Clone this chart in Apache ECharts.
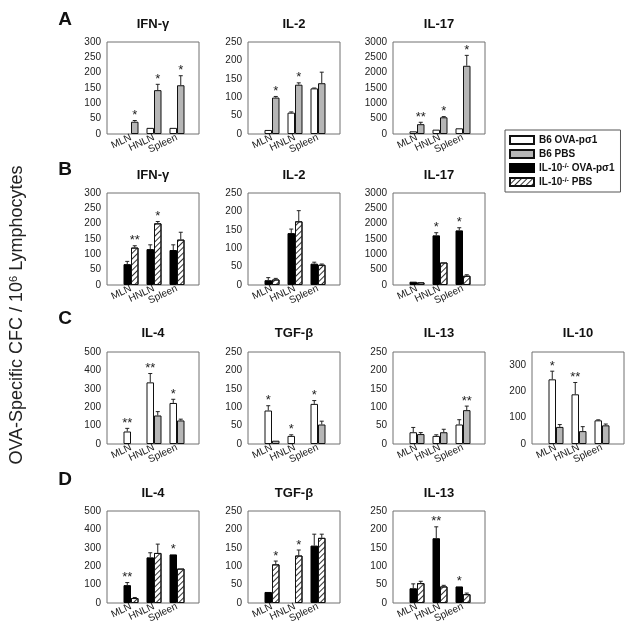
<!DOCTYPE html>
<html><head><meta charset="utf-8">
<script src="https://cdn.jsdelivr.net/npm/echarts@6/dist/echarts.min.js"></script>
<style>html,body{margin:0;padding:0;background:#fff}#c{width:634px;height:636px}</style>
</head><body><div id="c"></div>
<script>
// ---------- DATA ----------
const categories = ['MLN', 'HNLN', 'Spleen'];
const groupNames = ['B6 OVA-pσ1', 'B6 PBS', 'IL-10-/- OVA-pσ1', 'IL-10-/- PBS'];
const noStars = ['', '', ''];

// Row A (B6 OVA-pσ1 / B6 PBS)
const aIfngAxis = [300, 50];
const aIfngOva = [null, 20, 20];
const aIfngOvaErr = [null, null, null];
const aIfngPbs = [40, 143, 159];
const aIfngPbsErr = [44, 162, 190];
const aIfngPbsStar = ['*', '*', '*'];

const aIl2Axis = [250, 50];
const aIl2Ova = [11, 58, 124];
const aIl2OvaErr = [null, 60, 125];
const aIl2Pbs = [99, 134, 138];
const aIl2PbsErr = [102, 139, 168];
const aIl2PbsStar = ['*', '*', ''];

const aIl17Axis = [3000, 500];
const aIl17Ova = [87, 142, 185];
const aIl17OvaErr = [null, null, null];
const aIl17Pbs = [320, 545, 2225];
const aIl17PbsErr = [382, 567, 2564];
const aIl17PbsStar = ['**', '*', '*'];

// Row B (IL-10-/- OVA-pσ1 / IL-10-/- PBS)
const bIfngAxis = [300, 50];
const bIfngKo = [68, 117, 114];
const bIfngKoErr = [77, 131, 131];
const bIfngKp = [122, 201, 148];
const bIfngKpErr = [128, 207, 172];
const bIfngKpStar = ['**', '*', ''];

const bIl2Axis = [250, 50];
const bIl2Ko = [13, 141, 58];
const bIl2KoErr = [20, 152, 62];
const bIl2Kp = [15, 173, 55];
const bIl2KpErr = [18, 202, 57];

const bIl17Axis = [3000, 500];
const bIl17Ko = [108, 1619, 1781];
const bIl17KoErr = [null, 1705, 1867];
const bIl17KoStar = ['', '*', '*'];
const bIl17Kp = [86, 734, 302];
const bIl17KpErr = [null, null, 334];

// Row C (B6 OVA-pσ1 / B6 PBS)
const cIl4Axis = [500, 100];
const cIl4Ova = [68, 335, 223];
const cIl4OvaErr = [85, 383, 243];
const cIl4OvaStar = ['**', '**', '*'];
const cIl4Pbs = [null, 155, 128];
const cIl4PbsErr = [null, 176, 135];

const cTgfAxis = [250, 50];
const cTgfOva = [91, 22, 109];
const cTgfOvaErr = [104, 25, 118];
const cTgfOvaStar = ['*', '*', '*'];
const cTgfPbs = [9, null, 53];
const cTgfPbsErr = [null, null, 62];

const cIl13Axis = [250, 50];
const cIl13Ova = [32, 22, 53];
const cIl13OvaErr = [45, 25, 66];
const cIl13Pbs = [27, 32, 92];
const cIl13PbsErr = [31, 40, 103];
const cIl13PbsStar = ['', '', '**'];

const cIl10Axis = [350, 100];
const cIl10Ova = [246, 189, 90];
const cIl10OvaErr = [277, 234, 92];
const cIl10OvaStar = ['*', '**', ''];
const cIl10Pbs = [65, 49, 71];
const cIl10PbsErr = [74, 66, 76];

// Row D (IL-10-/- OVA-pσ1 / IL-10-/- PBS)
const dIl4Axis = [500, 100];
const dIl4Ko = [97, 248, 264];
const dIl4KoErr = [111, 273, null];
const dIl4KoStar = ['**', '', '*'];
const dIl4Kp = [27, 272, 187];
const dIl4KpErr = [30, 320, null];

const dTgfAxis = [250, 50];
const dTgfKo = [30, null, 156];
const dTgfKoErr = [null, null, 187];
const dTgfKp = [105, 129, 177];
const dTgfKpErr = [114, 144, 187];
const dTgfKpStar = ['*', '*', ''];

const dIl13Axis = [250, 50];
const dIl13Ko = [40, 176, 45];
const dIl13KoErr = [52, 207, null];
const dIl13KoStar = ['', '**', '*'];
const dIl13Kp = [54, 45, 24];
const dIl13KpErr = [59, 48, 27];

// ---------- LAYOUT ----------
const FF = '"Liberation Sans", Arial, Helvetica, sans-serif';
const rowTop = [42, 193, 352, 511];
const rowTitleY = [24, 175, 333, 493];
const letterY = [20, 170, 319, 480];
const letters = ['A', 'B', 'C', 'D'];
const colLeft = [107, 248, 393, 532];
const boxW = 92, boxH = 92, innerPad = 12.5, innerW = 69;
const BW = 7.5;

const panels = [
  {r:0, c:0, title:'IFN-γ', axis:aIfngAxis, s:[[0,aIfngOva,aIfngOvaErr,noStars],[1,aIfngPbs,aIfngPbsErr,aIfngPbsStar]]},
  {r:0, c:1, title:'IL-2', axis:aIl2Axis, s:[[0,aIl2Ova,aIl2OvaErr,noStars],[1,aIl2Pbs,aIl2PbsErr,aIl2PbsStar]]},
  {r:0, c:2, title:'IL-17', axis:aIl17Axis, s:[[0,aIl17Ova,aIl17OvaErr,noStars],[1,aIl17Pbs,aIl17PbsErr,aIl17PbsStar]]},
  {r:1, c:0, title:'IFN-γ', axis:bIfngAxis, s:[[2,bIfngKo,bIfngKoErr,noStars],[3,bIfngKp,bIfngKpErr,bIfngKpStar]]},
  {r:1, c:1, title:'IL-2', axis:bIl2Axis, s:[[2,bIl2Ko,bIl2KoErr,noStars],[3,bIl2Kp,bIl2KpErr,noStars]]},
  {r:1, c:2, title:'IL-17', axis:bIl17Axis, s:[[2,bIl17Ko,bIl17KoErr,bIl17KoStar],[3,bIl17Kp,bIl17KpErr,noStars]]},
  {r:2, c:0, title:'IL-4', axis:cIl4Axis, s:[[0,cIl4Ova,cIl4OvaErr,cIl4OvaStar],[1,cIl4Pbs,cIl4PbsErr,noStars]]},
  {r:2, c:1, title:'TGF-β', axis:cTgfAxis, s:[[0,cTgfOva,cTgfOvaErr,cTgfOvaStar],[1,cTgfPbs,cTgfPbsErr,noStars]]},
  {r:2, c:2, title:'IL-13', axis:cIl13Axis, s:[[0,cIl13Ova,cIl13OvaErr,noStars],[1,cIl13Pbs,cIl13PbsErr,cIl13PbsStar]]},
  {r:2, c:3, title:'IL-10', axis:cIl10Axis, s:[[0,cIl10Ova,cIl10OvaErr,cIl10OvaStar],[1,cIl10Pbs,cIl10PbsErr,noStars]]},
  {r:3, c:0, title:'IL-4', axis:dIl4Axis, s:[[2,dIl4Ko,dIl4KoErr,dIl4KoStar],[3,dIl4Kp,dIl4KpErr,noStars]]},
  {r:3, c:1, title:'TGF-β', axis:dTgfAxis, s:[[2,dTgfKo,dTgfKoErr,noStars],[3,dTgfKp,dTgfKpErr,dTgfKpStar]]},
  {r:3, c:2, title:'IL-13', axis:dIl13Axis, s:[[2,dIl13Ko,dIl13KoErr,dIl13KoStar],[3,dIl13Kp,dIl13KpErr,noStars]]}
];

const barStyles = [
  {color:'#ffffff', borderColor:'#111', borderWidth:1},
  {color:'#b6b6b6', borderColor:'#111', borderWidth:1},
  {color:'#000000', borderColor:'#000', borderWidth:1},
  {color:'#ffffff', borderColor:'#111', borderWidth:1,
   decal:{symbol:'rect', symbolSize:1, dashArrayX:[1,0], dashArrayY:[1,3], rotation:-Math.PI/4, color:'#333'}}
];

const grid = [], xAxis = [], yAxis = [], series = [], graphic = [];

panels.forEach(p => {
  const L = colLeft[p.c], T = rowTop[p.r];
  const fi = grid.length;
  grid.push({left:L, top:T, width:boxW, height:boxH, show:true, borderColor:'#707070', borderWidth:1, backgroundColor:'rgba(0,0,0,0)'});
  xAxis.push({gridIndex:fi, type:'value', show:false});
  yAxis.push({gridIndex:fi, type:'value', show:false});
  const gi = grid.length;
  grid.push({left:L + innerPad, top:T, width:innerW, height:boxH});
  const xi = xAxis.length;
  xAxis.push({gridIndex:gi, type:'category', data:categories,
    axisLine:{show:false}, axisTick:{show:false},
    axisLabel:{interval:0, rotate:25, margin:3, fontSize:10, color:'#222', fontFamily:FF}});
  const yi = yAxis.length;
  yAxis.push({gridIndex:gi, type:'value', min:0, max:p.axis[0], interval:p.axis[1],
    axisLine:{show:false}, axisTick:{show:false}, splitLine:{show:false},
    axisLabel:{margin:innerPad + 6, fontSize:10, color:'#222', fontFamily:FF,
      formatter: v => String(v),
      showMaxLabel: p.axis[0] % p.axis[1] === 0}});
  p.s.forEach(([t, vals]) => {
    series.push({type:'bar', name:groupNames[t], xAxisIndex:xi, yAxisIndex:yi,
      data: vals.map(v => v == null ? '-' : v), barWidth:BW, barGap:'0%',
      itemStyle: barStyles[t], silent:true});
  });
  p.s.forEach(([t, vals, errs, stars], k) => {
    const sign = k === 0 ? -1 : 1;
    series.push({type:'custom', xAxisIndex:xi, yAxisIndex:yi, z:5, silent:true,
      data: vals.map((v, i) => [i, v == null ? 0 : v]),
      renderItem: (params, api) => {
        const i = params.dataIndex;
        const v = vals[i];
        if (v == null) return null;
        const c = api.coord([i, v]);
        const x = c[0] + sign * BW / 2;
        const children = [];
        let topY = c[1];
        if (errs[i] != null) {
          const ey = api.coord([i, errs[i]])[1];
          children.push({type:'line', shape:{x1:x, y1:c[1], x2:x, y2:ey}, style:{stroke:'#222', lineWidth:1}});
          children.push({type:'line', shape:{x1:x - 2, y1:ey, x2:x + 2, y2:ey}, style:{stroke:'#222', lineWidth:1}});
          topY = ey;
        }
        if (stars[i]) {
          children.push({type:'text', x:x, y:topY - 5,
            style:{text:stars[i], align:'center', verticalAlign:'middle', fontSize:13, fill:'#222', fontFamily:FF}});
        }
        return {type:'group', children};
      }});
  });
  graphic.push({type:'text', x:L + boxW / 2, y:rowTitleY[p.r],
    style:{text:p.title, align:'center', verticalAlign:'middle', fontSize:13, fontWeight:'bold', fill:'#111', fontFamily:FF}});
});

letters.forEach((l, r) => {
  graphic.push({type:'text', x:65, y:letterY[r],
    style:{text:l, align:'center', verticalAlign:'middle', fontSize:19, fontWeight:'bold', fill:'#111', fontFamily:FF}});
});

graphic.push({type:'text', x:17, y:315, rotation:Math.PI / 2,
  style:{text:'OVA-Specific CFC / 10{sup|6} Lymphocytes', align:'center', verticalAlign:'middle',
    fontSize:18, fill:'#222', fontFamily:FF,
    rich:{sup:{fontSize:11, verticalAlign:'top', fill:'#222', fontFamily:FF, padding:[0,0,6,0]}}}});

const option = {
  animation:false,
  backgroundColor:'#ffffff',
  grid, xAxis, yAxis, series, graphic,
  legend:{
    orient:'vertical', left:505, top:130, padding:[5,6,5,4],
    itemWidth:24, itemHeight:8, itemGap:4, icon:'rect', selectedMode:false,
    borderColor:'#555', borderWidth:1,
    data:groupNames,
    formatter: name => name.replace('-/-', '{sup|-/-}'),
    textStyle:{fontSize:10, fontWeight:'bold', color:'#111', fontFamily:FF,
      rich:{sup:{fontSize:7, fontWeight:'bold', verticalAlign:'top', color:'#111', fontFamily:FF}}}
  }
};

const chart = echarts.init(document.getElementById('c'), null, {renderer:'canvas'});
chart.setOption(option);
</script>
</body></html>
